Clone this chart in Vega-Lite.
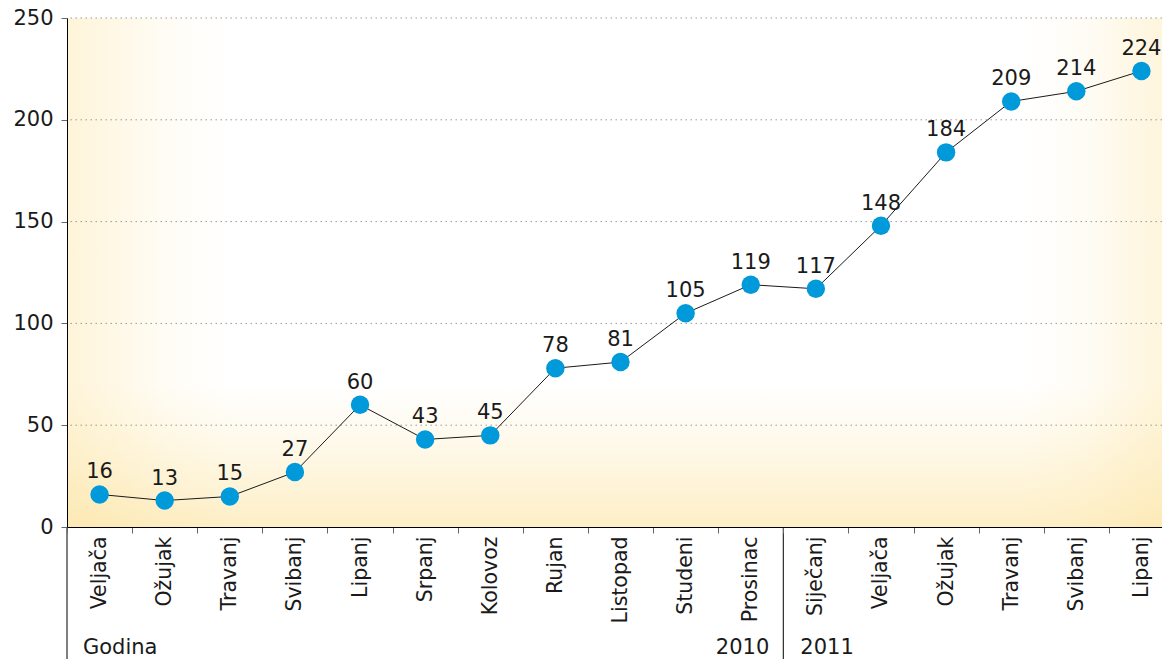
{
  "$schema": "https://vega.github.io/schema/vega-lite/v6.json",
  "width": 1095,
  "height": 509,
  "autosize": {"type": "none"},
  "padding": {"left": 67, "top": 18, "right": 0, "bottom": 132},
  "background": "white",
  "config": {"view": {"stroke": null}, "font": "DejaVu Sans"},
  "data": {"values": [
    {"mjesec": "Veljača 2010", "vrijednost": 16},
    {"mjesec": "Ožujak 2010", "vrijednost": 13},
    {"mjesec": "Travanj 2010", "vrijednost": 15},
    {"mjesec": "Svibanj 2010", "vrijednost": 27},
    {"mjesec": "Lipanj 2010", "vrijednost": 60},
    {"mjesec": "Srpanj 2010", "vrijednost": 43},
    {"mjesec": "Kolovoz 2010", "vrijednost": 45},
    {"mjesec": "Rujan 2010", "vrijednost": 78},
    {"mjesec": "Listopad 2010", "vrijednost": 81},
    {"mjesec": "Studeni 2010", "vrijednost": 105},
    {"mjesec": "Prosinac 2010", "vrijednost": 119},
    {"mjesec": "Siječanj 2011", "vrijednost": 117},
    {"mjesec": "Veljača 2011", "vrijednost": 148},
    {"mjesec": "Ožujak 2011", "vrijednost": 184},
    {"mjesec": "Travanj 2011", "vrijednost": 209},
    {"mjesec": "Svibanj 2011", "vrijednost": 214},
    {"mjesec": "Lipanj 2011", "vrijednost": 224}
  ]},
  "layer": [
    {
      "data": {"values": [{}]},
      "mark": {"type": "rect", "fill": {"gradient": "linear", "x1": 0, "y1": 0, "x2": 0, "y2": 1, "stops": [
        {"offset": 0, "color": "rgba(253,234,180,0)"},
        {"offset": 0.72, "color": "rgba(253,234,180,0)"},
        {"offset": 0.86, "color": "rgba(252,230,168,0.3)"},
        {"offset": 1, "color": "rgba(252,230,168,0.65)"}
      ]}},
      "encoding": {"x": {"value": 0}, "x2": {"value": "width"}, "y": {"value": 0}, "y2": {"value": "height"}}
    },
    {
      "data": {"values": [{}]},
      "mark": {"type": "rect", "fill": {"gradient": "linear", "x1": 0, "y1": 0, "x2": 1, "y2": 0, "stops": [
        {"offset": 0, "color": "rgba(252,226,155,0.38)"},
        {"offset": 0.04, "color": "rgba(252,226,155,0.26)"},
        {"offset": 0.09, "color": "rgba(252,226,155,0.1)"},
        {"offset": 0.15, "color": "rgba(252,226,155,0)"},
        {"offset": 0.87, "color": "rgba(252,226,155,0)"},
        {"offset": 0.93, "color": "rgba(252,226,155,0.1)"},
        {"offset": 0.97, "color": "rgba(252,226,155,0.25)"},
        {"offset": 1, "color": "rgba(252,226,155,0.35)"}
      ]}},
      "encoding": {"x": {"value": 0}, "x2": {"value": "width"}, "y": {"value": 0}, "y2": {"value": "height"}}
    },
    {
      "data": {"values": [{}]},
      "mark": {"type": "rect", "fill": {"gradient": "radial", "x1": 0, "y1": 1, "r1": 0, "x2": 0, "y2": 1, "r2": 0.32, "stops": [
        {"offset": 0, "color": "rgba(250,218,135,0.55)"},
        {"offset": 0.5, "color": "rgba(250,218,135,0.2)"},
        {"offset": 1, "color": "rgba(250,218,135,0)"}
      ]}},
      "encoding": {"x": {"value": 0}, "x2": {"value": "width"}, "y": {"value": 0}, "y2": {"value": "height"}}
    },
    {
      "data": {"values": [{}]},
      "mark": {"type": "rect", "fill": {"gradient": "radial", "x1": 1, "y1": 1, "r1": 0, "x2": 1, "y2": 1, "r2": 0.28, "stops": [
        {"offset": 0, "color": "rgba(250,218,135,0.5)"},
        {"offset": 0.5, "color": "rgba(250,218,135,0.18)"},
        {"offset": 1, "color": "rgba(250,218,135,0)"}
      ]}},
      "encoding": {"x": {"value": 0}, "x2": {"value": "width"}, "y": {"value": 0}, "y2": {"value": "height"}}
    },
    {
      "data": {"values": [{"g": 50}, {"g": 100}, {"g": 150}, {"g": 200}, {"g": 250}]},
      "mark": {"type": "rule", "color": "#9a9a9a", "strokeDash": [1.5, 3.5], "strokeWidth": 1},
      "encoding": {"y": {"field": "g", "type": "quantitative"}}
    },
    {
      "mark": {"type": "line", "color": "#1a1a1a", "strokeWidth": 1},
      "encoding": {
        "x": {"field": "mjesec", "type": "nominal", "sort": null,
          "scale": {"type": "band", "paddingInner": 0, "paddingOuter": 0, "range": [0, 1107],
            "domain": ["Veljača 2010", "Ožujak 2010", "Travanj 2010", "Svibanj 2010", "Lipanj 2010", "Srpanj 2010", "Kolovoz 2010", "Rujan 2010", "Listopad 2010", "Studeni 2010", "Prosinac 2010", "Siječanj 2011", "Veljača 2011", "Ožujak 2011", "Travanj 2011", "Svibanj 2011", "Lipanj 2011"]},
          "axis": {"title": null, "labelExpr": "isString(datum.value) ? split(datum.value, ' ')[0] : ''", "labelAngle": -90, "labelAlign": "right", "labelBaseline": "middle", "labelFontSize": 20.5, "labelColor": "#1a1a1a", "tickBand": "extent", "tickSize": 6, "tickColor": "#666666", "domainColor": "#000000", "labelPadding": 3, "grid": false, "zindex": 1}},
        "y": {"field": "vrijednost", "type": "quantitative",
          "scale": {"domain": [0, 250], "nice": false, "zero": true},
          "axis": {"title": null, "values": [0, 50, 100, 150, 200, 250], "labelFontSize": 21, "labelColor": "#1a1a1a", "tickSize": 6, "tickColor": "#666666", "labelPadding": 8, "domainColor": "#000000", "grid": false, "zindex": 1}}
      }
    },
    {
      "data": {"values": [{"m": "Veljača 2010"}, {"m": "Siječanj 2011"}]},
      "mark": {"type": "rule", "color": "#000000", "strokeWidth": 1},
      "encoding": {
        "x": {"field": "m", "type": "nominal", "sort": null, "bandPosition": 0},
        "y": {"datum": 0},
        "y2": {"datum": -66}
      }
    },
    {
      "mark": {"type": "point", "filled": true, "size": 340, "color": "#0099d9", "opacity": 1, "strokeWidth": 0},
      "encoding": {
        "x": {"field": "mjesec", "type": "nominal", "sort": null},
        "y": {"field": "vrijednost", "type": "quantitative"}
      }
    },
    {
      "mark": {"type": "text", "fontSize": 21, "color": "#1a1a1a", "baseline": "alphabetic", "align": "center", "dy": -16},
      "encoding": {
        "x": {"field": "mjesec", "type": "nominal", "sort": null},
        "y": {"field": "vrijednost", "type": "quantitative"},
        "text": {"field": "vrijednost", "type": "quantitative"}
      }
    },
    {
      "data": {"values": [{"m": "Veljača 2010", "t": "Godina"}]},
      "mark": {"type": "text", "fontSize": 21, "color": "#1a1a1a", "align": "left", "baseline": "alphabetic", "dx": 16},
      "encoding": {
        "x": {"field": "m", "type": "nominal", "sort": null, "bandPosition": 0},
        "y": {"datum": -62.5},
        "text": {"field": "t"}
      }
    },
    {
      "data": {"values": [{"m": "Prosinac 2010", "t": "2010"}]},
      "mark": {"type": "text", "fontSize": 21, "color": "#1a1a1a", "align": "right", "baseline": "alphabetic", "dx": -14},
      "encoding": {
        "x": {"field": "m", "type": "nominal", "sort": null, "bandPosition": 1},
        "y": {"datum": -62.5},
        "text": {"field": "t"}
      }
    },
    {
      "data": {"values": [{"m": "Siječanj 2011", "t": "2011"}]},
      "mark": {"type": "text", "fontSize": 21, "color": "#1a1a1a", "align": "left", "baseline": "alphabetic", "dx": 17},
      "encoding": {
        "x": {"field": "m", "type": "nominal", "sort": null, "bandPosition": 0},
        "y": {"datum": -62.5},
        "text": {"field": "t"}
      }
    }
  ]
}
